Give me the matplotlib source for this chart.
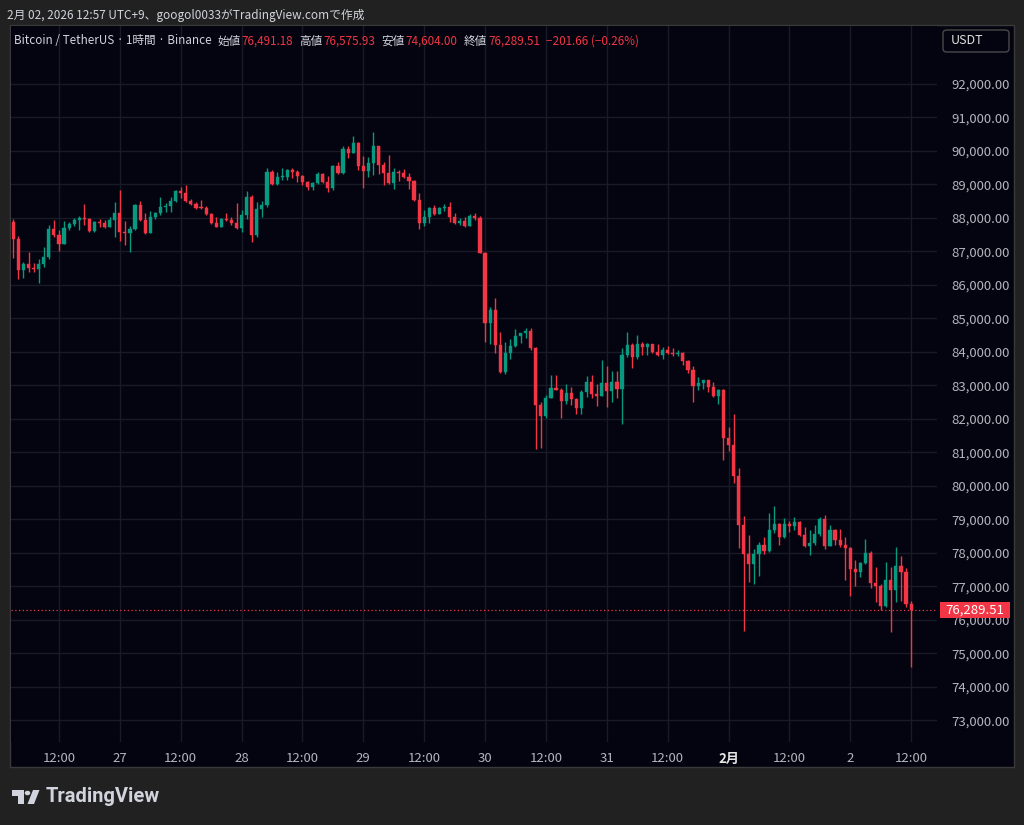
import numpy as np
import matplotlib
matplotlib.use('Agg')
import matplotlib.pyplot as plt
from matplotlib.patches import Rectangle, FancyBboxPatch, Polygon, Circle
from matplotlib.transforms import blended_transform_factory

plt.rcParams['font.family'] = ['Noto Sans CJK JP', 'DejaVu Sans']

# BTC/USDT 1h candles, Jan 26 03:00 -> Feb 2 12:00 (x = hours since Jan 26 00:00)
hours = list(range(3, 181))
first_open = 87891

close = [
    87373, 86448, 86627, 86498, 86468, 86627, 86826, 87662, 87493, 87224,
    87692, 87821, 87940, 87990, 87960, 87612, 87891, 87841, 87742, 87940,
    88159, 87592, 87542, 87662, 88388, 87940, 87562, 88040, 88140, 88339,
    88359, 88518, 88816, 88736, 88518, 88408, 88309, 88289, 88120, 87841,
    87742, 87961, 87940, 87861, 87692, 88100, 88630, 87493, 88259, 88388,
    89383, 89015, 89214, 89234, 89433, 89363, 89253, 89085, 88935, 89055,
    89313, 89085, 88886, 89552, 89353, 90059, 89950, 90228, 89552, 89413,
    89632, 90149, 89582, 89353, 89055, 89383, 89353, 89214, 89104, 88537,
    87861, 88040, 88289, 88120, 88289, 88338, 88020, 87841, 87920, 87761,
    88070, 87990, 86965, 84875, 85253, 84209, 83413, 83980, 84179, 84478,
    84557, 84627, 84129, 82418, 82090, 82637, 82915, 82866, 82547, 82786,
    82597, 82318, 82816, 83115, 82746, 82686, 83065, 82836, 83115, 82885,
    83911, 84209, 83861, 84239, 84159, 84239, 84010, 83911, 84060, 83960,
    83930, 83960, 83731, 83463, 82995, 83085, 83154, 82965, 82686, 82865,
    81423, 81224, 80299, 78836, 77970, 77672, 77970, 78239, 78070, 78687,
    78866, 78468, 78866, 78816, 78935, 78537, 78219, 78308, 78567, 79005,
    78219, 78687, 78388, 78239, 78139, 77512, 77443, 77711, 77990, 77095,
    77025, 76428, 77194, 76895, 77611, 77443, 76491.18, 76289.51,
]

high = [
    87960, 87463, 86677, 86995, 86667, 86766, 87125, 87791, 87940, 87642,
    87921, 87891, 88010, 88060, 88408, 87990, 87921, 87960, 87940, 88040,
    88488, 88836, 87921, 87761, 88408, 88518, 88140, 88219, 88189, 88617,
    88438, 88637, 88836, 88916, 88985, 88567, 88468, 88537, 88369, 88159,
    88040, 88010, 88140, 88040, 88458, 88239, 88800, 88686, 88487, 88507,
    89482, 89433, 89383, 89502, 89462, 89482, 89433, 89283, 89104, 89085,
    89383, 89353, 89253, 89582, 89661, 90149, 90149, 90457, 90258, 89850,
    89811, 90557, 90149, 89681, 89880, 89482, 89433, 89452, 89333, 89134,
    88736, 88239, 88318, 88388, 88318, 88418, 88487, 88139, 87990, 88040,
    88109, 88139, 88060, 86995, 85353, 85602, 84587, 84288, 84378, 84676,
    84577, 84706, 84706, 84159, 82517, 82716, 83313, 83313, 82915, 83045,
    82965, 82617, 82865, 83283, 83313, 83045, 83761, 83582, 83443, 83443,
    84109, 84597, 84258, 84497, 84298, 84258, 84239, 84239, 84159, 84189,
    84109, 84060, 84010, 83761, 83592, 83243, 83164, 83164, 83114, 82885,
    82885, 81751, 82149, 80527, 79104, 78537, 78109, 78318, 78488, 79184,
    79403, 78905, 79035, 78965, 79085, 78965, 78766, 78687, 78836, 79085,
    79134, 78836, 78716, 78706, 78468, 78189, 77791, 77741, 78408, 78070,
    77572, 77075, 77741, 77572, 78189, 77903, 77542, 76575.93,
]

low = [
    86796, 86179, 86219, 86398, 86398, 86050, 86548, 86766, 87443, 87025,
    87224, 87642, 87761, 87642, 87791, 87592, 87592, 87742, 87692, 87722,
    87443, 87314, 87194, 86995, 87642, 87921, 87523, 87543, 87960, 88090,
    88189, 88189, 88468, 88588, 88488, 88388, 88269, 88269, 88090, 87821,
    87722, 87722, 87921, 87792, 87662, 87592, 87970, 87293, 87443, 88040,
    88338, 88985, 88985, 89134, 89134, 89184, 89085, 88985, 88836, 88836,
    89015, 89055, 88786, 88836, 89313, 89313, 89781, 89930, 89433, 88885,
    89234, 89283, 89313, 88985, 89015, 88866, 89113, 89184, 88866, 88507,
    87671, 87761, 87860, 88089, 88109, 88219, 87890, 87821, 87791, 87741,
    87761, 87940, 86965, 84308, 84239, 83980, 83383, 83343, 83791, 84139,
    84258, 84408, 84060, 81094, 81124, 82019, 82617, 82866, 82019, 82447,
    82418, 82139, 82139, 82666, 82617, 82388, 82686, 82348, 82517, 82617,
    81851, 83861, 83512, 83791, 83910, 83910, 83980, 83880, 83791, 83940,
    83890, 83880, 83612, 83383, 82517, 82865, 82885, 82816, 82666, 82448,
    80776, 81055, 80080, 78139, 75682, 77144, 77075, 77314, 77970, 78040,
    78607, 78239, 78438, 78637, 78687, 78507, 78189, 77940, 78239, 78507,
    78109, 78204, 78239, 78169, 77194, 76716, 77025, 77274, 77672, 76945,
    76547, 76298, 76398, 75652, 76547, 76577, 76398, 74604,
]

price_ticks = list(range(73000, 93000, 1000))
time_ticks = list(range(12, 181, 12))
time_labels = ['12:00', '27', '12:00', '28', '12:00', '29', '12:00', '30',
               '12:00', '31', '12:00', '2月', '12:00', '2', '12:00']
last_price = 76289.51

UP = '#089981'
DOWN = '#f23645'
BG = '#212121'
PANEL = '#03040f'
GRID = '#181a28'
TXT = '#b2b5be'

W, H = 1024, 825


def fx(x):
    return x / W


def fy(y):
    return 1 - y / H


fig = plt.figure(figsize=(W / 100, H / 100), dpi=100, facecolor=BG)

# chart panel
fig.patches.append(Rectangle((fx(10), fy(767)), fx(1004), 742 / H, transform=fig.transFigure,
                             facecolor=PANEL, edgecolor='#3a3a3a', lw=1, zorder=-5))

ax = fig.add_axes([fx(11), fy(742), fx(926), 716 / H])
ax.set_zorder(1)
ax.set_facecolor(PANEL)
for s in ax.spines.values():
    s.set_visible(False)

x = np.array(hours)
c = np.array(close, dtype=float)
o = np.concatenate([[first_open], c[:-1]])
hi = np.maximum(np.array(high, dtype=float), np.maximum(o, c))
lo = np.minimum(np.array(low, dtype=float), np.minimum(o, c))
colors = np.where(c >= o, UP, DOWN)

ax.vlines(x, lo, hi, colors=colors, lw=1, zorder=3)
body_h = np.maximum(np.abs(c - o), 25)
ax.bar(x, body_h, bottom=np.minimum(o, c), width=0.62, color=colors,
       edgecolor=colors, lw=0.3, zorder=4)

ax.axhline(last_price, color=DOWN, lw=0.9, ls=(0, (1, 2)), zorder=5)

ax.set_xlim(2.54, 185.1)
ax.set_ylim(72358, 93731)
ax.set_xticks(time_ticks)
ax.set_xticklabels(time_labels)
ax.set_yticks(price_ticks)
ax.set_yticklabels([f'{p:,.2f}' for p in price_ticks])
ax.yaxis.tick_right()
ax.tick_params(axis='y', length=0, pad=10, labelsize=9.5, labelcolor=TXT)
ax.tick_params(axis='x', length=0, pad=7, labelsize=9.5, labelcolor=TXT)
for lab in ax.get_xticklabels():
    if lab.get_text() == '2月':
        lab.set_color('#e6e6e6')
        lab.set_fontweight('bold')
ax.grid(True, color=GRID, lw=1)
ax.set_axisbelow(True)

# last price tag
tr = blended_transform_factory(ax.transAxes, ax.transData)
ax.add_patch(Rectangle((1 + 3 / 926, last_price - 8 * 29.85), 70 / 926, 16 * 29.85,
                       transform=tr, facecolor=DOWN, edgecolor='none', clip_on=False, zorder=10))
ax.text(1 + 38 / 926, last_price, f'{last_price:,.2f}', transform=tr, ha='center', va='center',
        color='white', fontsize=9.5, clip_on=False, zorder=11)

# USDT box
fig.patches.append(FancyBboxPatch((fx(943), fy(52)), fx(66), 22 / H, transform=fig.transFigure,
                                  boxstyle='round,pad=0,rounding_size=0.004',
                                  facecolor=PANEL, edgecolor='#4a4a4a', lw=1, zorder=5))
fig.text(fx(951), fy(41), 'USDT', color='#e0e0e0', fontsize=9, ha='left', va='center', zorder=6)

# top credit line
fig.text(fx(7), fy(15), '2月 02, 2026 12:57 UTC+9、googol0033がTradingView.comで作成',
         color='#d1d4dc', fontsize=8.5, va='center')

# legend line (chained pieces)
pieces = [
    ('Bitcoin / TetherUS · 1時間 · Binance', '#d1d4dc', 0),
    ('始値', '#d1d4dc', 6), ('76,491.18', DOWN, 1),
    ('高値', '#d1d4dc', 6), ('76,575.93', DOWN, 1),
    ('安値', '#d1d4dc', 6), ('74,604.00', DOWN, 1),
    ('終値', '#d1d4dc', 6), ('76,289.51', DOWN, 1),
    ('−201.66 (−0.26%)', DOWN, 6),
]
hsize = 8.4
prev = fig.text(fx(14), fy(41), pieces[0][0], color=pieces[0][1], fontsize=hsize, va='center', zorder=6)
for s, col, gap in pieces[1:]:
    prev = fig.add_artist(matplotlib.text.Annotation(
        s, xy=(1, 0.5), xycoords=prev, xytext=(gap, 0), textcoords='offset pixels',
        color=col, fontsize=hsize, va='center', ha='left', zorder=6))

# TradingView logo
logo = [
    Polygon([(fx(12), fy(790)), (fx(24), fy(790)), (fx(24), fy(804)), (fx(18), fy(804)),
             (fx(18), fy(796)), (fx(12), fy(796))], closed=True),
    Circle((fx(27.5), fy(793)), 2.8 / W),
    Polygon([(fx(33), fy(790)), (fx(39.5), fy(790)), (fx(34), fy(804)), (fx(27.5), fy(804))], closed=True),
]
for p in logo:
    p.set_transform(fig.transFigure)
    p.set_facecolor('#d1d4dc')
    p.set_edgecolor('none')
    fig.patches.append(p)
fig.text(fx(46), fy(797), 'TradingView', color='#d1d4dc', fontsize=14.5, fontweight='bold',
         family='Roboto', va='center')

fig.savefig('out.png', dpi=100, facecolor=BG)
